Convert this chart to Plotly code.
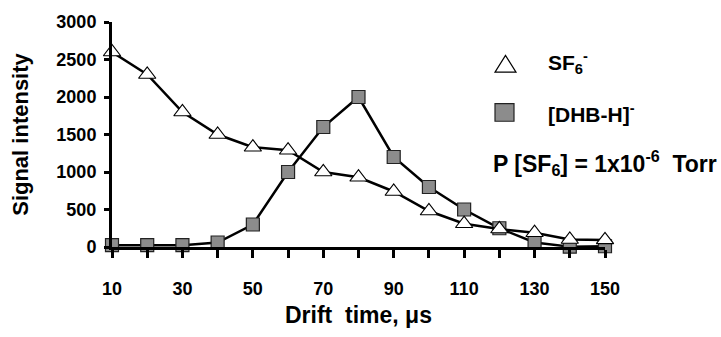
import plotly.graph_objects as go

drift_time = [10, 20, 30, 40, 50, 60, 70, 80, 90, 100, 110, 120, 130, 140, 150]
sf6 = [2600, 2300, 1800, 1500, 1330, 1290, 1000, 930, 740, 480, 310, 240, 190, 100, 95]
dhb = [25, 25, 25, 60, 300, 1000, 1600, 2000, 1200, 800, 500, 250, 60, 5, 10]
x_tick_vals = [10, 20, 30, 40, 50, 60, 70, 80, 90, 100, 110, 120, 130, 140, 150]
x_tick_text = ["10", "", "30", "", "50", "", "70", "", "90", "", "110", "", "130", "", "150"]
y_tick_vals = [0, 500, 1000, 1500, 2000, 2500, 3000]

FONT = "Liberation Sans, Arial, Helvetica, sans-serif"

fig = go.Figure()
fig.add_trace(go.Scatter(
    x=drift_time, y=dhb, mode="lines+markers", name="[DHB-H]-",
    line=dict(color="black", width=2.5),
    marker=dict(symbol="square", size=13, color="#8c8c8c", line=dict(color="#222", width=1.2)),
    cliponaxis=False,
))
fig.add_trace(go.Scatter(
    x=drift_time, y=sf6, mode="lines+markers", name="SF6-",
    line=dict(color="black", width=2.5),
    marker=dict(symbol="triangle-up", size=15, color="white", line=dict(color="black", width=1.2)),
    cliponaxis=False,
))

L, R, T, B = 112, 116, 19, 89
W, H = 721, 337
pw, ph = W - L - R, H - T - B

def px(xp):
    return (xp - L) / pw

def py(yp):
    return (H - B - yp) / ph

# legend symbols
tcx, tcy = 505.5, 61.5
fig.add_shape(type="path", xref="paper", yref="paper",
              path=f"M {px(tcx-10.5)} {py(tcy+8.5)} L {px(tcx+10.5)} {py(tcy+8.5)} L {px(tcx)} {py(tcy-8.5)} Z",
              fillcolor="white", line=dict(color="black", width=1.2))
scx, scy = 504.5, 111
fig.add_shape(type="rect", xref="paper", yref="paper",
              x0=px(scx-9.5), x1=px(scx+9.5), y0=py(scy+9), y1=py(scy-9),
              fillcolor="#8c8c8c", line=dict(color="#222", width=1.2))

ann_font = dict(family=FONT, size=21, color="black", weight="bold")
fig.add_annotation(x=px(546), y=py(60), xref="paper", yref="paper", xanchor="left", yanchor="middle",
                   text="SF<sub>6</sub><sup>-</sup>", showarrow=False, font=ann_font)
fig.add_annotation(x=px(546), y=py(112), xref="paper", yref="paper", xanchor="left", yanchor="middle",
                   text="[DHB-H]<sup>-</sup>", showarrow=False, font=ann_font)
fig.add_annotation(x=px(491), y=py(163), xref="paper", yref="paper", xanchor="left", yanchor="middle",
                   text="P [SF<sub>6</sub>] = 1x10<sup>-6</sup>  Torr", showarrow=False,
                   font=dict(family=FONT, size=23, color="black", weight="bold"))

fig.update_layout(
    width=W, height=H,
    margin=dict(l=L, r=R, t=T, b=B, pad=0),
    paper_bgcolor="white", plot_bgcolor="white",
    showlegend=False,
    font=dict(family=FONT, color="black"),
)
fig.update_xaxes(
    range=[10, 150], tickmode="array", tickvals=x_tick_vals, ticktext=x_tick_text,
    showgrid=False, zeroline=False, showline=True, linecolor="black", linewidth=3,
    ticks="outside", ticklen=8, tickwidth=3, tickcolor="black",
    tickfont=dict(family=FONT, size=18, weight="bold"), ticklabelstandoff=15,
    title=dict(text="Drift  time, μs", font=dict(family=FONT, size=23, weight="bold"), standoff=10),
)
fig.update_yaxes(
    range=[0, 3000], tickmode="array", tickvals=y_tick_vals,
    showgrid=False, zeroline=False, showline=True, linecolor="black", linewidth=3,
    ticks="outside", ticklen=5, tickwidth=2.5, tickcolor="black",
    tickfont=dict(family=FONT, size=18, weight="bold"), ticklabelstandoff=4,
    title=dict(text="Signal intensity", font=dict(family=FONT, size=22, weight="bold"), standoff=22),
)

fig.write_html("out.html")
